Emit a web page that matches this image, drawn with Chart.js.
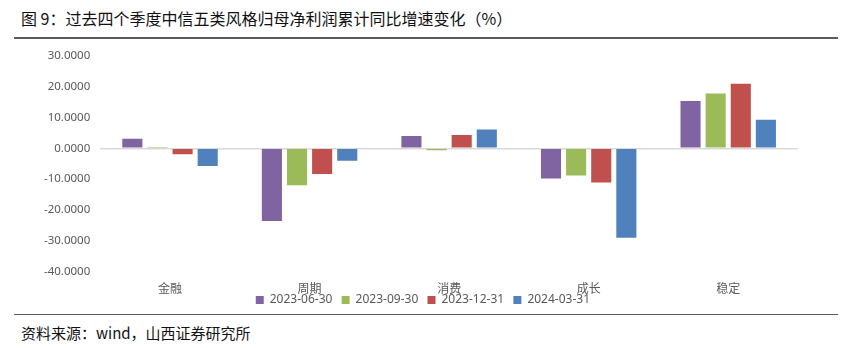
<!DOCTYPE html>
<html>
<head>
<meta charset="utf-8">
<script src="https://cdn.jsdelivr.net/npm/chart.js@4"></script>
<style>
    html, body { margin: 0; padding: 0; background: #fff; }
    body { width: 854px; height: 348px; position: relative; overflow: hidden; font-family: "Noto Sans CJK SC", sans-serif; }
    .title { position: absolute; left: 21px; top: 6px; font-size: 16px; color: #111; }
    .rule-top { position: absolute; left: 14px; width: 824px; top: 37px; height: 2px; background: #5a5a5a; }
    .chart-box { position: absolute; left: 14px; top: 39px; width: 824px; height: 274px; }
    .rule-bottom { position: absolute; left: 14px; width: 824px; top: 314px; height: 1px; background: #5a5a5a; }
    .source { position: absolute; left: 21px; top: 322px; font-size: 15px; color: #111; }
</style>
</head>
<body>
<div class="title">图 9：过去四个季度中信五类风格归母净利润累计同比增速变化（%）</div>
<div class="rule-top"></div>
<div class="chart-box"><canvas id="chartStyle"></canvas></div>
<div class="rule-bottom"></div>
<div class="source">资料来源：wind，山西证券研究所</div>
<script>
// categorias y series
const categories = ['金融', '周期', '消费', '成长', '稳定'];
const seriesNames = ['2023-06-30', '2023-09-30', '2023-12-31', '2024-03-31'];
const q2023Jun = [3.1, -23.6, 4.0, -9.8, 15.4];
const q2023Sep = [0.4, -12.0, -0.6, -8.8, 17.8];
const q2023Dec = [-1.9, -8.3, 4.3, -11.1, 21.0];
const q2024Mar = [-5.7, -4.0, 6.1, -29.0, 9.3];
const colors = ['#8064a2', '#9bbb59', '#c0504d', '#4f81bd'];

// legend sits tight under the category labels, like the original
const tightLegend = {
    id: 'tightLegend',
    beforeInit(chart) {
        const legend = chart.legend;
        const fit = legend.fit;
        legend.fit = function () {
            fit.call(this);
            this.height -= 10;
        };
    },
    afterLayout(chart) {
        const legend = chart.legend;
        legend.top -= 7;
        legend.bottom -= 7;
        legend.left += 10;
        legend.right += 10;
    }
};

document.addEventListener('DOMContentLoaded', () => {
    const ctx = document.getElementById('chartStyle');
    const allSeries = [q2023Jun, q2023Sep, q2023Dec, q2024Mar];

    new Chart(ctx, {
        type: 'bar',
        data: {
            labels: categories,
            datasets: allSeries.map((vals, i) => ({
                label: seriesNames[i],
                data: vals,
                backgroundColor: colors[i],
                borderWidth: 0,
                categoryPercentage: 0.72,
                barPercentage: 0.8
            }))
        },
        plugins: [tightLegend],
        options: {
            responsive: true,
            maintainAspectRatio: false,
            animation: false,
            layout: { padding: { left: 20, right: 40, top: 2, bottom: 0 } },
            plugins: {
                legend: {
                    position: 'bottom',
                    labels: {
                        boxWidth: 8,
                        boxHeight: 8,
                        padding: 3,
                        color: '#595959',
                        font: { family: 'Noto Sans', size: 12 },
                        // spaces keep the items apart while padding stays small
                        generateLabels: chart => Chart.defaults.plugins.legend.labels.generateLabels(chart)
                            .map(item => Object.assign(item, { text: item.text + '  ' }))
                    }
                },
                tooltip: { enabled: false }
            },
            scales: {
                x: {
                    grid: { display: false },
                    border: { display: false },
                    ticks: {
                        color: '#595959',
                        padding: 2,
                        font: { family: 'Noto Sans CJK SC', size: 12 }
                    }
                },
                y: {
                    min: -40,
                    max: 30,
                    border: { display: false },
                    grid: {
                        drawTicks: false,
                        lineWidth: 1.5,
                        color: c => c.tick.value === 0 ? '#d9d9d9' : 'rgba(0,0,0,0)'
                    },
                    ticks: {
                        stepSize: 10,
                        padding: 10,
                        color: '#595959',
                        font: { family: 'Noto Sans', size: 11.5 },
                        callback: v => v.toFixed(4)
                    }
                }
            }
        }
    });
});
</script>
</body>
</html>
